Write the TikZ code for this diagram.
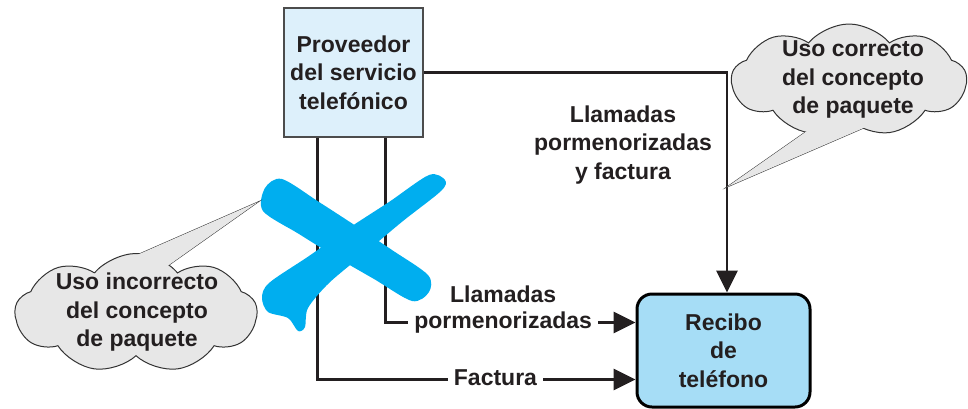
\documentclass[tikz,border=0pt]{standalone}
\usepackage{fontspec}
\setmainfont{Liberation Sans}
\usetikzlibrary{arrows.meta,shapes.symbols,positioning}
\definecolor{provfill}{HTML}{DDF0FB}
\definecolor{recfill}{HTML}{A6DDF6}
\definecolor{crossblue}{HTML}{00AEEF}
\definecolor{cloudfill}{HTML}{E7E7E7}
\definecolor{inkgray}{HTML}{231F20}
\tikzset{
  txt/.style={font=\fontsize{23}{28.5}\selectfont\bfseries, text=inkgray, align=center, inner sep=0pt},
  provbox/.style={txt, draw=black!70, line width=1.5pt, fill=provfill, minimum width=139pt, minimum height=129pt},
  recbox/.style={txt, draw=black, line width=3pt, fill=recfill, rounded corners=15pt, minimum width=173pt, minimum height=113pt},
  conn/.style={line width=2.8pt, draw=inkgray, -{Triangle[length=22pt 0 0,width=21pt 0 0]}},
  lbl/.style={txt, fill=white, inner xsep=6pt, inner ysep=2pt, text height=16.5pt, text depth=4.8pt},
  cloudbg/.style={cloud, cloud puffs=9, cloud puff arc=100, cloud ignores aspect, fill=cloudfill, draw=black!80, line width=1pt},
  tail/.style={fill=cloudfill, draw=black!80, line width=1pt},
}
\begin{document}
\begin{tikzpicture}[x=1pt,y=-1pt]
        \useasboundingbox (0,0) rectangle (968,408);
        % cajas
        \node[provbox] (prov) at (353.5,72.5) {Proveedor\\del servicio\\telefónico};
        \node[recbox] (rec) at (723.5,350.5) {Recibo\\de\\teléfono};
        % conexiones
        \draw[conn] (prov.east) -| ([xshift=3.5pt]rec.north);
        \draw[conn] ([xshift=34pt]prov.south west) |- node[lbl,pos=0.78] (lblfac) {Factura} ([yshift=-29pt]rec.west);
        \draw[conn] ([xshift=-38pt]prov.south east) |- node[lbl,pos=0.735] (lblpor) {pormenorizadas} ([yshift=28pt]rec.west);
        \node[txt] (lblllam) at ([yshift=28pt]lblpor.center) {Llamadas};
        \node[txt] (lblboth) at (623,145) {Llamadas\\pormenorizadas\\y factura};
        % la cruz
        \fill[crossblue] plot[smooth cycle, tension=0.5] coordinates {(282,179) (319,202) (356,226) (392,250) (428,275) (429,292) (412,301) (374,279) (336,257) (299,234) (263,211) (265,188)};
        \fill[crossblue] plot[smooth cycle, tension=0.5] coordinates {(429,175) (445,180) (441,191) (403,221) (366,252) (329,283) (308,308) (305,327) (298,331) (288,318) (268,312) (262,298) (269,283) (309,256) (349,228) (389,202)};
        % bocadillos
        \draw[tail] (89,276) -- (258,202) -- (159,272) -- cycle;
        \node[cloudbg, minimum width=242pt, minimum height=119pt] (cloudL) at (136,313) {};
        \fill[cloudfill] (89,276) -- (258,202) -- (159,272) -- cycle;
        \node[txt] (txtL) at (137,312.5) {Uso incorrecto\\del concepto\\de paquete};
        \draw[tail] (847,103) -- (727,187) -- (889,117) -- cycle;
        \node[cloudbg, minimum width=235pt, minimum height=112pt] (cloudR) at (849,80) {};
        \fill[cloudfill] (847,103) -- (727,187) -- (889,117) -- cycle;
        \node[txt] (txtR) at (853,79.5) {Uso correcto\\del concepto\\de paquete};
\end{tikzpicture}
\end{document}
